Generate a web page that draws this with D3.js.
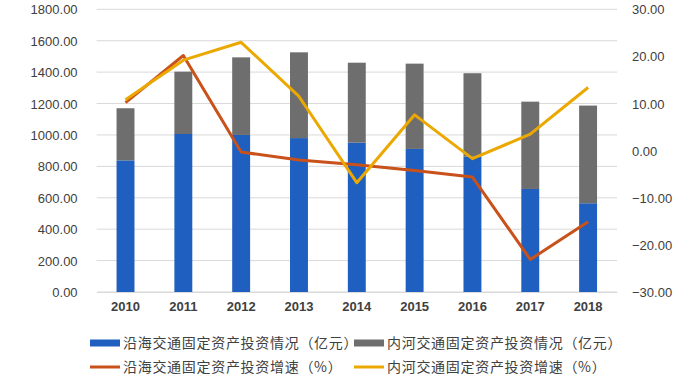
<!DOCTYPE html>
<html>
<head>
<meta charset="utf-8">
<script src="https://cdn.jsdelivr.net/npm/d3@7"></script>
<style>
  body { margin: 0; background: #fff; }
  text { font-family: "Liberation Sans", Arial, sans-serif; fill: #404040; }
  .leg text { font-family: "Noto Sans CJK SC", sans-serif; font-size: 14px; letter-spacing: 0.7px; fill: #404040; }
</style>
</head>
<body>
<svg id="chart"></svg>
<script>
const years = ["2010", "2011", "2012", "2013", "2014", "2015", "2016", "2017", "2018"];
// investment (亿元)
const coastal = [838, 1006, 1000, 980, 951, 911, 862, 656, 565];
const totalInv = [1170, 1403, 1494, 1526, 1460, 1454, 1393, 1212, 1187];
const inland = totalInv.map((t, i) => t - coastal[i]);
// growth (%)
const coastalGrowth = [10.2, 20.2, -0.3, -2.0, -3.0, -4.2, -5.6, -23.1, -15.1];
const inlandGrowth = [10.8, 19.2, 23.0, 11.5, -6.8, 7.6, -1.7, 3.5, 13.4];
const leftTicks = [0, 200, 400, 600, 800, 1000, 1200, 1400, 1600, 1800];
const rightTicks = [-30, -20, -10, 0, 10, 20, 30];

const W = 700, H = 378;
const margin = {top: 9.3, left: 96.6, right: 83, bottom: 86};

const svg = d3.select("#chart")
    .attr("width", W)
    .attr("height", H);

const x = d3.scaleBand()
    .domain(years)
    .range([margin.left, W - margin.right])
    .paddingInner(0.69)
    .paddingOuter(0.345);

const y = d3.scaleLinear()
    .domain([0, 1800])
    .range([H - margin.bottom, margin.top]);

const y2 = d3.scaleLinear()
    .domain([-30, 30])
    .range([H - margin.bottom, margin.top]);

//gridlines
svg.append("g")
    .selectAll("line")
    .data(leftTicks)
    .join("line")
    .attr("x1", margin.left)
    .attr("x2", W - margin.right)
    .attr("y1", d => y(d))
    .attr("y2", d => y(d))
    .attr("stroke", "#d9d9d9")
    .attr("stroke-width", 1);

//left axis
const yAxis = svg.append("g")
    .attr("transform", "translate(" + (margin.left - 16) + ",0)")
    .call(d3.axisLeft(y).tickValues(leftTicks).tickFormat(d3.format(".2f")).tickSize(0));
yAxis.select(".domain").remove();
yAxis.selectAll("text").style("font-size", "13px").attr("dy", "0.35em");

//right axis
const yAxis2 = svg.append("g")
    .attr("transform", "translate(" + (W - margin.right + 12) + ",0)")
    .call(d3.axisRight(y2).tickValues(rightTicks).tickFormat(d3.format(".2f")).tickSize(0));
yAxis2.select(".domain").remove();
yAxis2.selectAll("text").style("font-size", "13px").attr("dy", "0.35em");

//x axis
const xAxis = svg.append("g")
    .attr("transform", "translate(0," + (H - margin.bottom) + ")")
    .call(d3.axisBottom(x).tickSize(0).tickPadding(10));
xAxis.select(".domain").attr("stroke", "#d9d9d9");
xAxis.selectAll("text").style("font-size", "13px").style("font-weight", "bold");

//stacked bars
const table = years.map((yr, i) => ({year: yr, coastal: coastal[i], inland: inland[i]}));
const stack = d3.stack().keys(["coastal", "inland"]);
const barColor = {coastal: "#1f5fbf", inland: "#6e6e6e"};

svg.append("g")
    .selectAll("g")
    .data(stack(table))
    .join("g")
    .attr("fill", d => barColor[d.key])
    .selectAll("rect")
    .data(d => d)
    .join("rect")
    .attr("x", d => x(d.data.year))
    .attr("width", x.bandwidth())
    .attr("y", d => y(d[1]))
    .attr("height", d => y(d[0]) - y(d[1]));

//lines
const line = d3.line()
    .x((d, i) => x(years[i]) + x.bandwidth() / 2)
    .y(d => y2(d));

svg.append("path")
    .datum(coastalGrowth)
    .attr("d", line)
    .attr("fill", "none")
    .attr("stroke", "#c9511a")
    .attr("stroke-width", 3)
    .attr("stroke-linejoin", "round");

svg.append("path")
    .datum(inlandGrowth)
    .attr("d", line)
    .attr("fill", "none")
    .attr("stroke", "#eba800")
    .attr("stroke-width", 3)
    .attr("stroke-linejoin", "round");

//legend
const legendItems = [
    {label: "沿海交通固定资产投资情况（亿元）", color: "#1f5fbf", type: "bar", x: 90, y: 343},
    {label: "内河交通固定资产投资情况（亿元）", color: "#6e6e6e", type: "bar", x: 354, y: 343},
    {label: "沿海交通固定资产投资增速（%）", color: "#c9511a", type: "line", x: 90, y: 367},
    {label: "内河交通固定资产投资增速（%）", color: "#eba800", type: "line", x: 354, y: 367}
];

const leg = svg.append("g").attr("class", "leg")
    .selectAll("g")
    .data(legendItems)
    .join("g")
    .attr("transform", d => "translate(" + d.x + "," + d.y + ")");

leg.append("rect")
    .attr("x", 0)
    .attr("y", d => d.type === "bar" ? -3.5 : -1.5)
    .attr("width", 30)
    .attr("height", d => d.type === "bar" ? 7 : 3)
    .attr("fill", d => d.color);

leg.append("text")
    .attr("x", 33)
    .attr("dy", "0.35em")
    .text(d => d.label);
</script>
</body>
</html>
